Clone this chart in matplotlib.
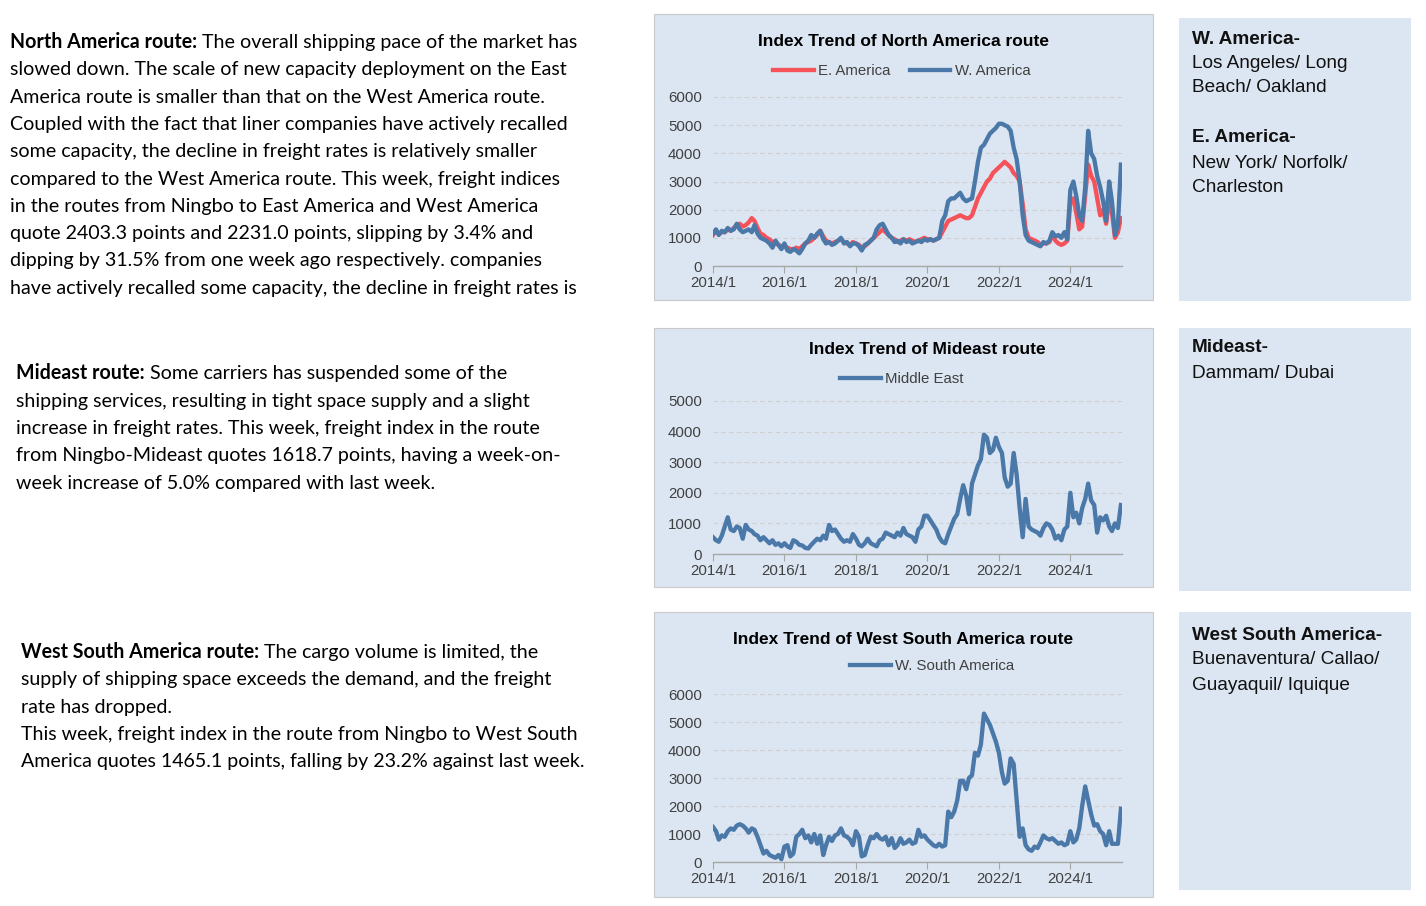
import matplotlib
matplotlib.use("Agg")
import matplotlib.pyplot as plt
from matplotlib.patches import Rectangle
import pandas as pd

# --- data (monthly readings, 2014/1 .. 2025/6) ---
months = pd.date_range("2014-01-01", "2025-06-01", freq="MS")

e_america = [
    1100, 1250, 1150, 1200, 1200, 1300, 1250, 1350, 1450, 1500, 1400, 1450,
    1550, 1700, 1600, 1350, 1150, 1100, 1000, 950, 850, 800, 750, 700,
    700, 650, 600, 600, 650, 600, 700, 800, 850, 900, 1000, 1100,
    1250, 1050, 900, 850, 800, 850, 900, 950, 850, 800, 750, 850,
    800, 750, 650, 700, 800, 900, 1000, 1100, 1200, 1300, 1200, 1100,
    1000, 950, 850, 900, 950, 900, 950, 900, 850, 900, 950, 1000,
    950, 950, 900, 950, 1000, 1200, 1400, 1600, 1650, 1700, 1750, 1800,
    1750, 1700, 1700, 1800, 2100, 2400, 2600, 2800, 3000, 3100, 3300, 3400,
    3500, 3600, 3700, 3600, 3500, 3300, 3200, 3000, 2200, 1300, 1000, 950,
    900, 850, 750, 800, 800, 850, 1100, 900, 800, 750, 800, 900,
    2300, 2400, 1900, 1300, 1400, 2500, 3600, 3200, 3000, 2400, 1800, 2000,
    1500, 2400, 1900, 1000, 1200, 1700,
]

w_america = [
    1150, 1300, 1100, 1250, 1200, 1350, 1250, 1300, 1500, 1300, 1200, 1250,
    1300, 1200, 1450, 1150, 1000, 950, 900, 800, 650, 900, 750, 600,
    800, 550, 500, 600, 550, 450, 600, 800, 900, 1100, 1000, 1150,
    1250, 950, 800, 850, 750, 800, 900, 1000, 800, 850, 700, 800,
    800, 700, 550, 750, 800, 900, 1000, 1300, 1450, 1500, 1300, 1100,
    1000, 850, 900, 800, 950, 850, 900, 800, 850, 900, 850, 950,
    900, 950, 900, 950, 1000, 1600, 1800, 2300, 2400, 2400, 2500, 2600,
    2400, 2300, 2350, 2400, 3000, 3700, 4200, 4300, 4500, 4700, 4800, 4900,
    5050, 5050, 5000, 4950, 4800, 4200, 3800, 3000, 1800, 1100, 900, 850,
    800, 750, 700, 850, 800, 900, 1200, 1050, 1100, 1000, 1200, 950,
    2700, 3000, 2500, 1800, 1600, 2800, 4800, 4000, 3800, 3200, 2800, 2300,
    1600, 3000, 2300, 1100, 1450, 3600,
]

middle_east = [
    550, 450, 400, 600, 900, 1200, 800, 750, 900, 850, 500, 950,
    800, 750, 650, 600, 450, 550, 450, 350, 450, 300, 350, 250,
    350, 250, 200, 450, 400, 300, 280, 200, 180, 300, 400, 500,
    450, 600, 500, 950, 750, 800, 650, 500, 400, 450, 400, 650,
    500, 300, 250, 350, 500, 350, 300, 250, 450, 500, 700, 650,
    600, 550, 700, 600, 850, 650, 600, 550, 400, 800, 900, 1250,
    1250, 1100, 950, 800, 550, 400, 350, 650, 900, 1150, 1300, 1800,
    2250, 1900, 1300, 2300, 2600, 2900, 3100, 3900, 3800, 3300, 3400, 3800,
    3500, 3300, 2500, 2200, 2300, 3300, 2600, 1500, 550, 1800, 900, 800,
    750, 700, 600, 850, 1000, 950, 800, 500, 600, 450, 800, 900,
    2000, 1200, 1350, 1000, 1500, 1800, 2300, 1750, 1600, 700, 1200, 1100,
    1250, 900, 750, 1000, 850, 1600,
]

w_south_america = [
    1250, 1100, 800, 950, 900, 1100, 1200, 1150, 1300, 1350, 1300, 1200,
    1050, 1200, 1150, 900, 600, 300, 400, 250, 200, 150, 250, 100,
    550, 600, 200, 300, 900, 1000, 1150, 850, 950, 700, 1000, 650,
    950, 250, 600, 900, 750, 950, 1000, 1200, 950, 900, 800, 600,
    1100, 900, 200, 250, 600, 900, 850, 1000, 850, 800, 900, 600,
    850, 500, 600, 850, 650, 700, 800, 650, 700, 1150, 900, 950,
    800, 700, 600, 550, 650, 550, 600, 1800, 1600, 1800, 2200, 2900,
    2900, 2600, 3000, 3100, 3900, 3800, 4200, 5300, 5100, 4900, 4600, 4300,
    3900, 3200, 2800, 2900, 3700, 3500, 2200, 900, 1200, 600, 450, 400,
    550, 500, 700, 950, 850, 800, 850, 750, 650, 700, 600, 650,
    1100, 700, 800, 1200, 2000, 2700, 2200, 1700, 1300, 1350, 1100, 1000,
    600, 1100, 650, 650, 650, 1900,
]

year_ticks = pd.to_datetime(["2014-01-01", "2016-01-01", "2018-01-01",
                             "2020-01-01", "2022-01-01", "2024-01-01"])
year_labels = ["2014/1", "2016/1", "2018/1", "2020/1", "2022/1", "2024/1"]

W, H = 1426, 906
PANEL = "#dce6f2"
BLUE = "#4a78a8"
RED = "#f5525a"
GREY_TXT = "#404040"
BODY_FONT = ["Lato", "DejaVu Sans"]
ARIAL = ["Liberation Sans", "DejaVu Sans"]
LW = 3.1

fig = plt.figure(figsize=(W / 100, H / 100), dpi=100)

# background layer in pixel coordinates
bg = fig.add_axes([0, 0, 1, 1], zorder=-1)
bg.set_xlim(0, W)
bg.set_ylim(H, 0)
bg.axis("off")

for (x, y, w, h) in [(654, 14, 499, 286), (654, 328, 499, 259), (654, 612, 499, 285)]:
    bg.add_patch(Rectangle((x, y), w, h, fc=PANEL, ec="#c9c9c9", lw=0.8))
for (x, y, w, h) in [(1179, 18, 232, 283), (1179, 328, 232, 263), (1179, 612, 232, 278)]:
    bg.add_patch(Rectangle((x, y), w, h, fc=PANEL, ec="none"))


def fig_rect(x0, y_top, x1, y_bot):
    return [x0 / W, 1 - y_bot / H, (x1 - x0) / W, (y_bot - y_top) / H]


def style_chart(ax, ymax):
    ax.set_facecolor("none")
    ax.set_xlim(pd.Timestamp("2014-01-01"), pd.Timestamp("2025-06-12"))
    ax.set_ylim(0, ymax)
    ax.set_yticks(range(0, ymax + 1, 1000))
    ax.set_xticks(year_ticks)
    ax.set_xticklabels(year_labels)
    for s in ["top", "right", "left"]:
        ax.spines[s].set_visible(False)
    ax.spines["bottom"].set_color("#a6a6a6")
    ax.spines["bottom"].set_linewidth(1.0)
    ax.tick_params(axis="y", length=0, pad=8, labelsize=10.8, labelcolor=GREY_TXT)
    ax.tick_params(axis="x", length=5, width=0.8, color="#a6a6a6", pad=2,
                   labelsize=10.8, labelcolor=GREY_TXT, direction="out")
    for lab in ax.get_xticklabels() + ax.get_yticklabels():
        lab.set_family(ARIAL)
    ax.yaxis.grid(True, linestyle=(0, (4, 3)), color="#cfcfcf", lw=0.8)
    ax.set_axisbelow(True)
    # no gridline on top of the baseline
    ax.get_ygridlines()[0].set_visible(False)


def add_legend(ax, x_left, y_mid):
    leg = ax.legend(loc="center left", bbox_to_anchor=(x_left / W, 1 - y_mid / H),
                    bbox_transform=fig.transFigure, ncol=2, frameon=False,
                    borderpad=0, borderaxespad=0, handlelength=2.7,
                    handletextpad=0.3, columnspacing=1.3,
                    prop={"family": ARIAL, "size": 10.8})
    for t in leg.get_texts():
        t.set_color(GREY_TXT)


def chart_title(x, y, s):
    bg.text(x, y, s, ha="center", va="center", family=ARIAL, weight="bold",
            size=12.5, color="black")


# --- chart 1: North America ---
ax1 = fig.add_axes(fig_rect(713, 97, 1122, 266))
ax1.plot(months, e_america, color=RED, lw=LW, label="E. America")
ax1.plot(months, w_america, color=BLUE, lw=LW, label="W. America")
style_chart(ax1, 6000)
add_legend(ax1, 773, 71)
chart_title(903, 42, "Index Trend of North America route")

# --- chart 2: Mideast ---
ax2 = fig.add_axes(fig_rect(713, 401, 1122, 554))
ax2.plot(months, middle_east, color=BLUE, lw=LW, label="Middle East")
style_chart(ax2, 5000)
add_legend(ax2, 840, 379)
chart_title(927, 350, "Index Trend of Mideast route")

# --- chart 3: West South America ---
ax3 = fig.add_axes(fig_rect(713, 694, 1122, 862))
ax3.plot(months, w_south_america, color=BLUE, lw=LW, label="W. South America")
style_chart(ax3, 6000)
add_legend(ax3, 850, 666)
chart_title(903, 639, "Index Trend of West South America route")

# --- right side port boxes ---
side_lines = [
    (1192, 39, "W. America-", "bold"),
    (1192, 64, "Los Angeles/ Long", "normal"),
    (1192, 88, "Beach/ Oakland", "normal"),
    (1192, 138, "E. America-", "bold"),
    (1192, 163, "New York/ Norfolk/", "normal"),
    (1192, 188, "Charleston", "normal"),
    (1192, 348, "Mideast-", "bold"),
    (1192, 373, "Dammam/ Dubai", "normal"),
    (1192, 635, "West South America-", "bold"),
    (1192, 660, "Buenaventura/ Callao/", "normal"),
    (1192, 685, "Guayaquil/ Iquique", "normal"),
]
for x, y, s, wt in side_lines:
    bg.text(x, y, s, ha="left", va="center", family=ARIAL, weight=wt, size=13.7,
            color="#111111")

# --- left commentary ---
BODY_SIZE = 14.15
renderer = fig.canvas.get_renderer()


def paragraph(x, y0, step, lead, lines):
    # baselines sit a bit below the visual line centre
    base0 = y0 + 7
    b = bg.text(x, base0, lead, ha="left", va="baseline", family=BODY_FONT,
                weight="bold", size=BODY_SIZE, color="black")
    bw = b.get_window_extent(renderer=renderer).width
    bg.text(x + bw, base0, " " + lines[0], ha="left", va="baseline",
            family=BODY_FONT, size=BODY_SIZE, color="black")
    for i, s in enumerate(lines[1:], start=1):
        bg.text(x, base0 + i * step, s, ha="left", va="baseline",
                family=BODY_FONT, size=BODY_SIZE, color="black")


paragraph(10, 41, 27.3, "North America route:", [
    "The overall shipping pace of the market has",
    "slowed down. The scale of new capacity deployment on the East",
    "America route is smaller than that on the West America route.",
    "Coupled with the fact that liner companies have actively recalled",
    "some capacity, the decline in freight rates is relatively smaller",
    "compared to the West America route. This week, freight indices",
    "in the routes from Ningbo to East America and West America",
    "quote 2403.3 points and 2231.0 points, slipping by 3.4% and",
    "dipping by 31.5% from one week ago respectively. companies",
    "have actively recalled some capacity, the decline in freight rates is",
])

paragraph(16, 372, 27.5, "Mideast route:", [
    "Some carriers has suspended some of the",
    "shipping services, resulting in tight space supply and a slight",
    "increase in freight rates. This week, freight index in the route",
    "from Ningbo-Mideast quotes 1618.7 points, having a week-on-",
    "week increase of 5.0% compared with last week.",
])

paragraph(21, 651, 27.3, "West South America route:", [
    "The cargo volume is limited, the",
    "supply of shipping space exceeds the demand, and the freight",
    "rate has dropped.",
    "This week, freight index in the route from Ningbo to West South",
    "America quotes 1465.1 points, falling by 23.2% against last week.",
])

fig.savefig("out.png", dpi=100)
plt.close(fig)
print("saved out.png")
